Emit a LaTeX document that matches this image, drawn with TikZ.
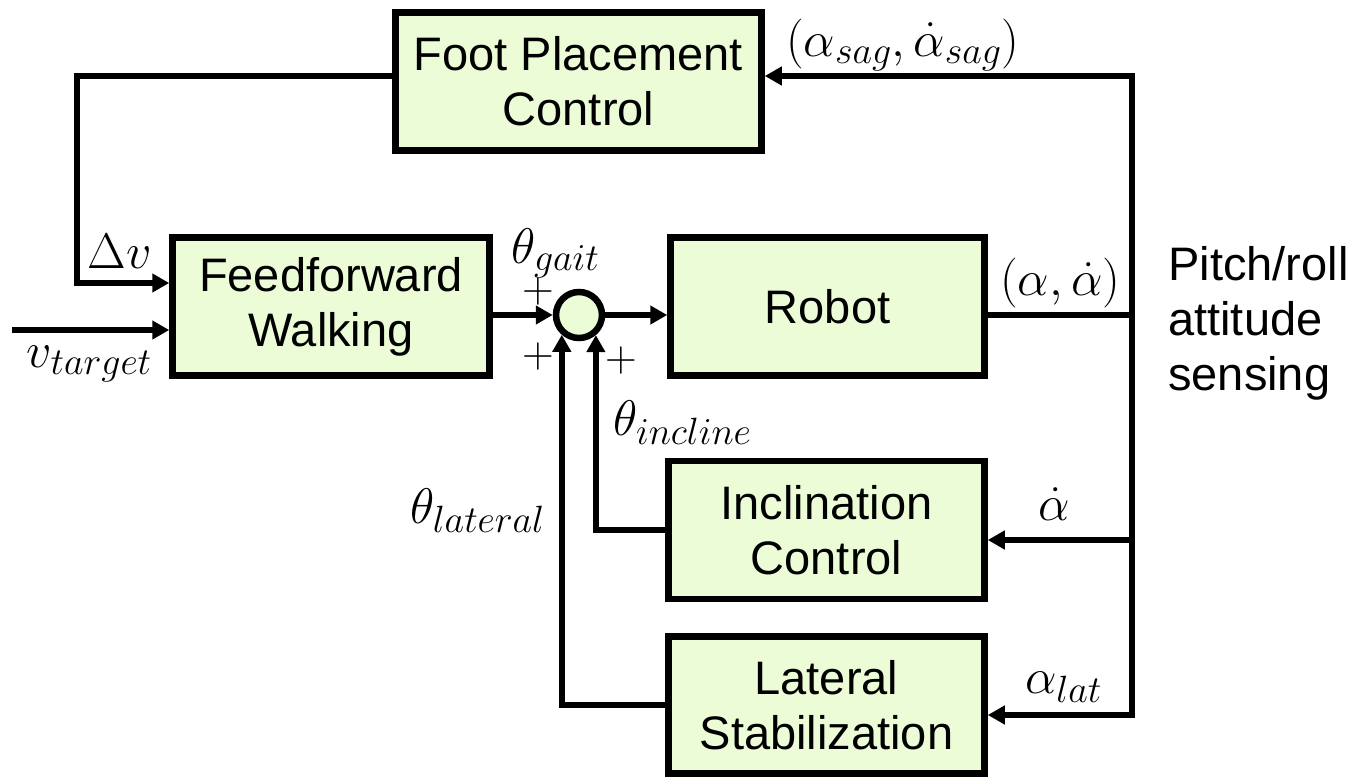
\RequirePackage{fix-cm}
\documentclass[tikz,border=0pt]{standalone}
\usepackage{fontspec}
\newfontfamily\blockfont{Liberation Sans}
\usetikzlibrary{arrows.meta}
\DeclareMathSizes{50}{50}{38}{30}
\DeclareMathSizes{44}{44}{32}{24}
\definecolor{blockfill}{RGB}{235,252,215}
\newcommand{\mathlbl}{\fontsize{50}{56}\selectfont}
\newcommand{\signlbl}{\fontsize{44}{50}\selectfont}

\begin{document}
\begin{tikzpicture}[x=1pt,y=-1pt,
  line width=6.5pt,
  tip/.tip={Triangle[length=17pt,width=18pt]},
  arr/.style={-tip},
  block/.style={draw, fill=blockfill, line width=6.5pt, align=center,
    font=\blockfont\fontsize{47}{55}\selectfont,
    minimum height=138pt, inner sep=0pt},
  sumnode/.style={circle, draw, fill=blockfill, line width=6.5pt,
    minimum size=46pt, inner sep=0pt},
  lbl/.style={inner sep=0pt, font=\mathlbl},
  sign/.style={inner sep=0pt, font=\signlbl},
  plain/.style={inner sep=0pt, align=left,
    font=\blockfont\fontsize{47}{55}\selectfont}]

\useasboundingbox (0,0) rectangle (1351,779);

% blocks
\node[block, minimum width=366pt] (fp) at (578.5,81.5) {Foot Placement\\Control};
\node[block, minimum width=317pt] (ff) at (331,306.5) {Feedforward\\Walking};
\node[block, minimum width=314pt] (rb) at (827.5,306.5) {Robot};
\node[block, minimum width=316pt] (ic) at (826.5,530) {Inclination\\Control};
\node[block, minimum width=316pt, minimum height=137pt] (ls) at (826.5,705) {Lateral\\Stabilization};
\node[sumnode] (s) at (579,315) {};

% branch points and free ends
\coordinate (tapTop) at (1132,76);
\coordinate (tapRb) at (1132,315);
\coordinate (tapIc) at (1132,540);
\coordinate (tapLs) at (1132,715);
\coordinate (fbCorner) at (77,283);
\coordinate (vin) at (12,330);

% sensor feedback bus
\draw[tip-tip] (ls.east |- tapLs) -- (tapLs) -- (tapTop) -- (fp.east |- tapTop);
\draw (rb.east |- tapRb) -- (tapRb);
\draw[arr] (tapIc) -- (ic.east |- tapIc);

% forward path
\draw[arr] (fp.west |- tapTop) -| (fbCorner) -- (ff.west |- fbCorner);
\draw[arr] (vin) -- (ff.west |- vin);
\draw[arr] (ff.east |- s) -- (s);
\draw[arr] (s) -- (rb.west |- s);
\draw[arr] (ic.west) -| (s.310.8);
\draw[arr] (ls.west) -| (s.229.2);

% signal labels
\node[lbl, anchor=base west] at (783,56) {$(\alpha_{sag},\dot{\alpha}_{sag})$};
\node[lbl, anchor=base east] at (155,268) {$\Delta v$};
\node[lbl, anchor=base east] at (155,367) {$v_{target}$};
\node[lbl, anchor=base west] at (508,263) {$\theta_{gait}$};
\node[lbl, anchor=base west] at (997,295) {$(\alpha,\dot{\alpha})$};
\node[lbl, anchor=base west] at (610,435) {$\theta_{incline}$};
\node[lbl, anchor=base east] at (548,523) {$\theta_{lateral}$};
\node[lbl, anchor=base] at (1054,520) {$\dot{\alpha}$};
\node[lbl, anchor=base west] at (1022,693) {$\alpha_{lat}$};

% summing signs
\node[sign] at (538,291) {$+$};
\node[sign] at (538,356) {$+$};
\node[sign] at (621,360) {$+$};

\node[plain, anchor=north west] at (1165,243) {Pitch/roll\\attitude\\sensing};
\end{tikzpicture}
\end{document}
